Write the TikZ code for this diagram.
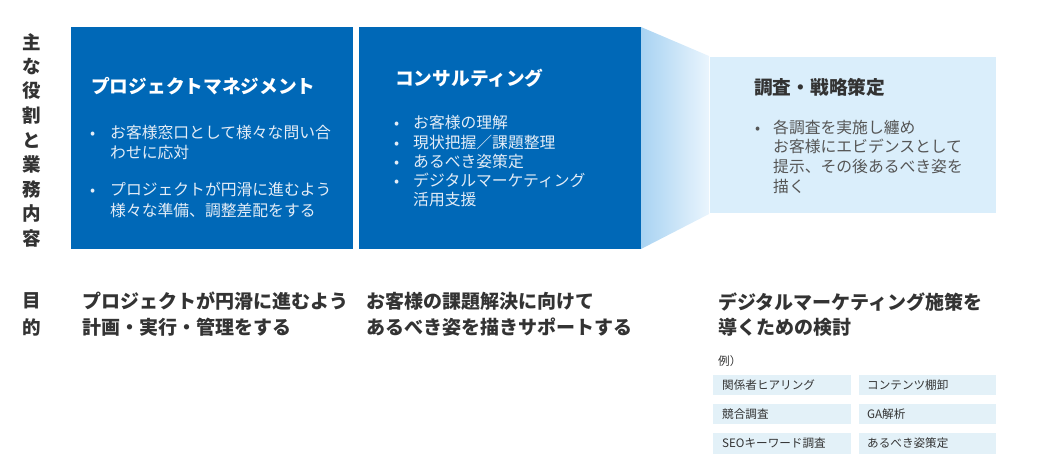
\documentclass[tikz,border=0pt]{standalone}
\usepackage{fontspec}
\setmainfont{Noto Sans CJK JP}
\definecolor{mainblue}{HTML}{0068B7}
\definecolor{btext}{HTML}{E4EDF7}
\definecolor{lightbox}{HTML}{DAEEFB}
\definecolor{dark}{HTML}{333333}
\definecolor{mid}{HTML}{555555}
\definecolor{cell}{HTML}{E3F1F8}
\definecolor{fadeA}{HTML}{A8D3F2}
\definecolor{fadeB}{HTML}{EAF5FD}
\tikzset{
  ttl/.style={anchor=base west, inner sep=0pt, font=\fontsize{18.7}{22}\selectfont\bfseries},
  bl/.style={anchor=base west, inner sep=0pt, font=\fontsize{15.8}{19}\selectfont},
  dot/.style={anchor=base west, inner sep=0pt, font=\fontsize{15}{17}\selectfont},
  big/.style={anchor=base west, inner sep=0pt, font=\fontsize{19}{22}\selectfont\bfseries, text=dark},
  vchar/.style={anchor=center, inner sep=0pt, font=\fontsize{18.5}{22}\selectfont\bfseries, text=dark},
  small/.style={anchor=west, inner sep=0pt, font=\fontsize{11.6}{13}\selectfont, text=dark},
  cellbox/.style={fill=cell, draw=none}
}
\begin{document}
\begin{tikzpicture}[x=1pt,y=-1pt]
\useasboundingbox (0,0) rectangle (1040,475);
% left vertical label
\foreach \c [count=\i from 0] in {主,な,役,割,と,業,務,内,容}
  \node[vchar] (v\i) at (32,42+24.5*\i) {\c};
\node[vchar] (m1) at (32,301) {目};
\node[vchar] (m2) at (32,327) {的};
% boxes
\fill[mainblue] (71,27) rectangle (353,249);
\fill[mainblue] (359,27) rectangle (641,249);
\shade[left color=fadeA, right color=fadeB] (641,27) -- (709,56) -- (709,214) -- (641,249) -- cycle;
\fill[lightbox] (710,57) rectangle (996,213);
% box 1
\node[ttl, text=white] (t1) at (91,93) {プロジェクトマネジメント};
\node[dot, text=btext] (d11) at (90,138) {•};
\node[bl, text=btext] (b11) at (110,138) {お客様窓口として様々な問い合};
\node[bl, text=btext] (b12) at (110,158) {わせに応対};
\node[dot, text=btext] (d12) at (90,195) {•};
\node[bl, text=btext] (b13) at (110,195) {プロジェクトが円滑に進むよう};
\node[bl, text=btext] (b14) at (110,216) {様々な準備、調整差配をする};
% box 2
\node[ttl, text=white] (t2) at (395,85) {コンサルティング};
\node[dot, text=btext] (d21) at (394,128) {•};
\node[bl, text=btext] (b21) at (413,128) {お客様の理解};
\node[dot, text=btext] (d22) at (394,148) {•};
\node[bl, text=btext] (b22) at (413,148) {現状把握／課題整理};
\node[dot, text=btext] (d23) at (394,167) {•};
\node[bl, text=btext] (b23) at (413,167) {あるべき姿策定};
\node[dot, text=btext] (d24) at (394,186) {•};
\node[bl, text=btext] (b24) at (413,186) {デジタルマーケティング};
\node[bl, text=btext] (b25) at (413,205) {活用支援};
% box 3
\node[ttl, text=dark] (t3) at (754,94) {調査・戦略策定};
\node[dot, text=mid] (d31) at (755,133) {•};
\node[bl, text=mid] (b31) at (773,133) {各調査を実施し纏め};
\node[bl, text=mid] (b32) at (773,152) {お客様にエビデンスとして};
\node[bl, text=mid] (b33) at (773,172) {提示、その後あるべき姿を};
\node[bl, text=mid] (b34) at (773,192) {描く};
% bottom row
\node[big] (p11) at (82,308) {プロジェクトが円滑に進むよう};
\node[big] (p12) at (82,334) {計画・実行・管理をする};
\node[big] (p21) at (366,308) {お客様の課題解決に向けて};
\node[big] (p22) at (366,334) {あるべき姿を描きサポートする};
\node[big] (p31) at (718,309) {デジタルマーケティング施策を};
\node[big] (p32) at (718,334) {導くための検討};
\node[small] (ex) at (718,361) {例）};
% example cells
\fill[cell] (713,375) rectangle (851,395);
\fill[cell] (859,375) rectangle (996,395);
\fill[cell] (713,404) rectangle (851,424);
\fill[cell] (859,404) rectangle (996,424);
\fill[cell] (713,433) rectangle (851,454);
\fill[cell] (859,433) rectangle (996,454);
\node[small] (c11) at (722,385) {関係者ヒアリング};
\node[small] (c12) at (867,385) {コンテンツ棚卸};
\node[small] (c21) at (722,414) {競合調査};
\node[small] (c22) at (867,414) {GA解析};
\node[small] (c31) at (722,443.5) {SEOキーワード調査};
\node[small] (c32) at (867,443.5) {あるべき姿策定};
\end{tikzpicture}
\end{document}
